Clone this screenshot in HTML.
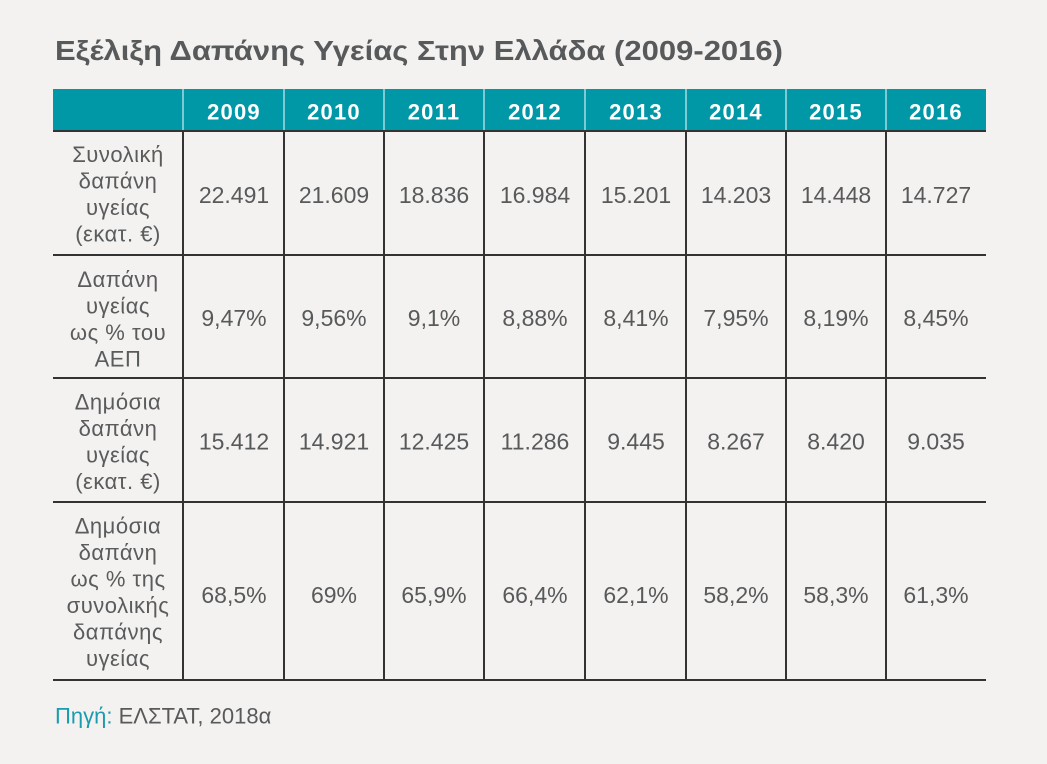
<!DOCTYPE html>
<html>
<head>
<meta charset="utf-8">
<style>
  html,body{margin:0;padding:0;background:#f3f2f0;}
  svg{display:block;}
  text{font-family:"Liberation Sans", "DejaVu Sans", sans-serif;}
</style>
</head>
<body>
<svg width="1047" height="764" viewBox="0 0 1047 764" xmlns="http://www.w3.org/2000/svg">
  <rect x="0" y="0" width="1047" height="764" fill="#f3f2f0"/>

  <!-- Title -->
  <text x="55" y="60" font-size="28" font-weight="bold" fill="#58595b" textLength="728" lengthAdjust="spacingAndGlyphs">Εξέλιξη Δαπάνης Υγείας Στην Ελλάδα (2009-2016)</text>

  <!-- Header background -->
  <rect x="53" y="89" width="933" height="42" fill="#0097a7"/>
  <!-- header separators -->
  <g stroke="#a6dbe1" stroke-width="1.5">
    <line x1="183" y1="89" x2="183" y2="131"/>
    <line x1="284" y1="89" x2="284" y2="131"/>
    <line x1="384" y1="89" x2="384" y2="131"/>
    <line x1="484" y1="89" x2="484" y2="131"/>
    <line x1="585" y1="89" x2="585" y2="131"/>
    <line x1="686" y1="89" x2="686" y2="131"/>
    <line x1="786" y1="89" x2="786" y2="131"/>
    <line x1="886" y1="89" x2="886" y2="131"/>
  </g>
  <!-- header years -->
  <g font-size="22" font-weight="bold" fill="#ffffff" text-anchor="middle" letter-spacing="1.2">
    <text x="234" y="119.5">2009</text>
    <text x="334" y="119.5">2010</text>
    <text x="434" y="119.5">2011</text>
    <text x="535" y="119.5">2012</text>
    <text x="636" y="119.5">2013</text>
    <text x="736" y="119.5">2014</text>
    <text x="836" y="119.5">2015</text>
    <text x="936" y="119.5">2016</text>
  </g>

  <!-- body grid -->
  <g stroke="#333333" stroke-width="2">
    <line x1="53" y1="131" x2="986" y2="131"/>
    <line x1="53" y1="255" x2="986" y2="255"/>
    <line x1="53" y1="378" x2="986" y2="378"/>
    <line x1="53" y1="502" x2="986" y2="502"/>
    <line x1="53" y1="680" x2="986" y2="680"/>
    <line x1="183" y1="131" x2="183" y2="680"/>
    <line x1="284" y1="131" x2="284" y2="680"/>
    <line x1="384" y1="131" x2="384" y2="680"/>
    <line x1="484" y1="131" x2="484" y2="680"/>
    <line x1="585" y1="131" x2="585" y2="680"/>
    <line x1="686" y1="131" x2="686" y2="680"/>
    <line x1="786" y1="131" x2="786" y2="680"/>
    <line x1="886" y1="131" x2="886" y2="680"/>
  </g>

  <!-- row labels -->
  <g font-size="22" fill="#5a5b5d" text-anchor="middle" letter-spacing="0.5">
    <text x="118" y="162">Συνολική</text>
    <text x="118" y="188.5">δαπάνη</text>
    <text x="118" y="215">υγείας</text>
    <text x="118" y="241.5">(εκατ. €)</text>

    <text x="118" y="287">Δαπάνη</text>
    <text x="118" y="313.5">υγείας</text>
    <text x="118" y="340">ως % του</text>
    <text x="118" y="366.5">ΑΕΠ</text>

    <text x="118" y="409.5">Δημόσια</text>
    <text x="118" y="436">δαπάνη</text>
    <text x="118" y="462.5">υγείας</text>
    <text x="118" y="489">(εκατ. €)</text>

    <text x="118" y="533.5">Δημόσια</text>
    <text x="118" y="560">δαπάνη</text>
    <text x="118" y="586.5">ως % της</text>
    <text x="118" y="613">συνολικής</text>
    <text x="118" y="639.5">δαπάνης</text>
    <text x="118" y="666">υγείας</text>
  </g>

  <!-- values -->
  <g font-size="23" fill="#58595b" text-anchor="middle">
    <text x="234" y="203">22.491</text>
    <text x="334" y="203">21.609</text>
    <text x="434" y="203">18.836</text>
    <text x="535" y="203">16.984</text>
    <text x="636" y="203">15.201</text>
    <text x="736" y="203">14.203</text>
    <text x="836" y="203">14.448</text>
    <text x="936" y="203">14.727</text>

    <text x="234" y="326">9,47%</text>
    <text x="334" y="326">9,56%</text>
    <text x="434" y="326">9,1%</text>
    <text x="535" y="326">8,88%</text>
    <text x="636" y="326">8,41%</text>
    <text x="736" y="326">7,95%</text>
    <text x="836" y="326">8,19%</text>
    <text x="936" y="326">8,45%</text>

    <text x="234" y="449.5">15.412</text>
    <text x="334" y="449.5">14.921</text>
    <text x="434" y="449.5">12.425</text>
    <text x="535" y="449.5">11.286</text>
    <text x="636" y="449.5">9.445</text>
    <text x="736" y="449.5">8.267</text>
    <text x="836" y="449.5">8.420</text>
    <text x="936" y="449.5">9.035</text>

    <text x="234" y="603">68,5%</text>
    <text x="334" y="603">69%</text>
    <text x="434" y="603">65,9%</text>
    <text x="535" y="603">66,4%</text>
    <text x="636" y="603">62,1%</text>
    <text x="736" y="603">58,2%</text>
    <text x="836" y="603">58,3%</text>
    <text x="936" y="603">61,3%</text>
  </g>

  <!-- footer -->
  <text x="55" y="723.5" font-size="22" fill="#58595b"><tspan fill="#1a9bb0">Πηγή:</tspan> ΕΛΣΤΑΤ, 2018α</text>
</svg>
</body>
</html>
